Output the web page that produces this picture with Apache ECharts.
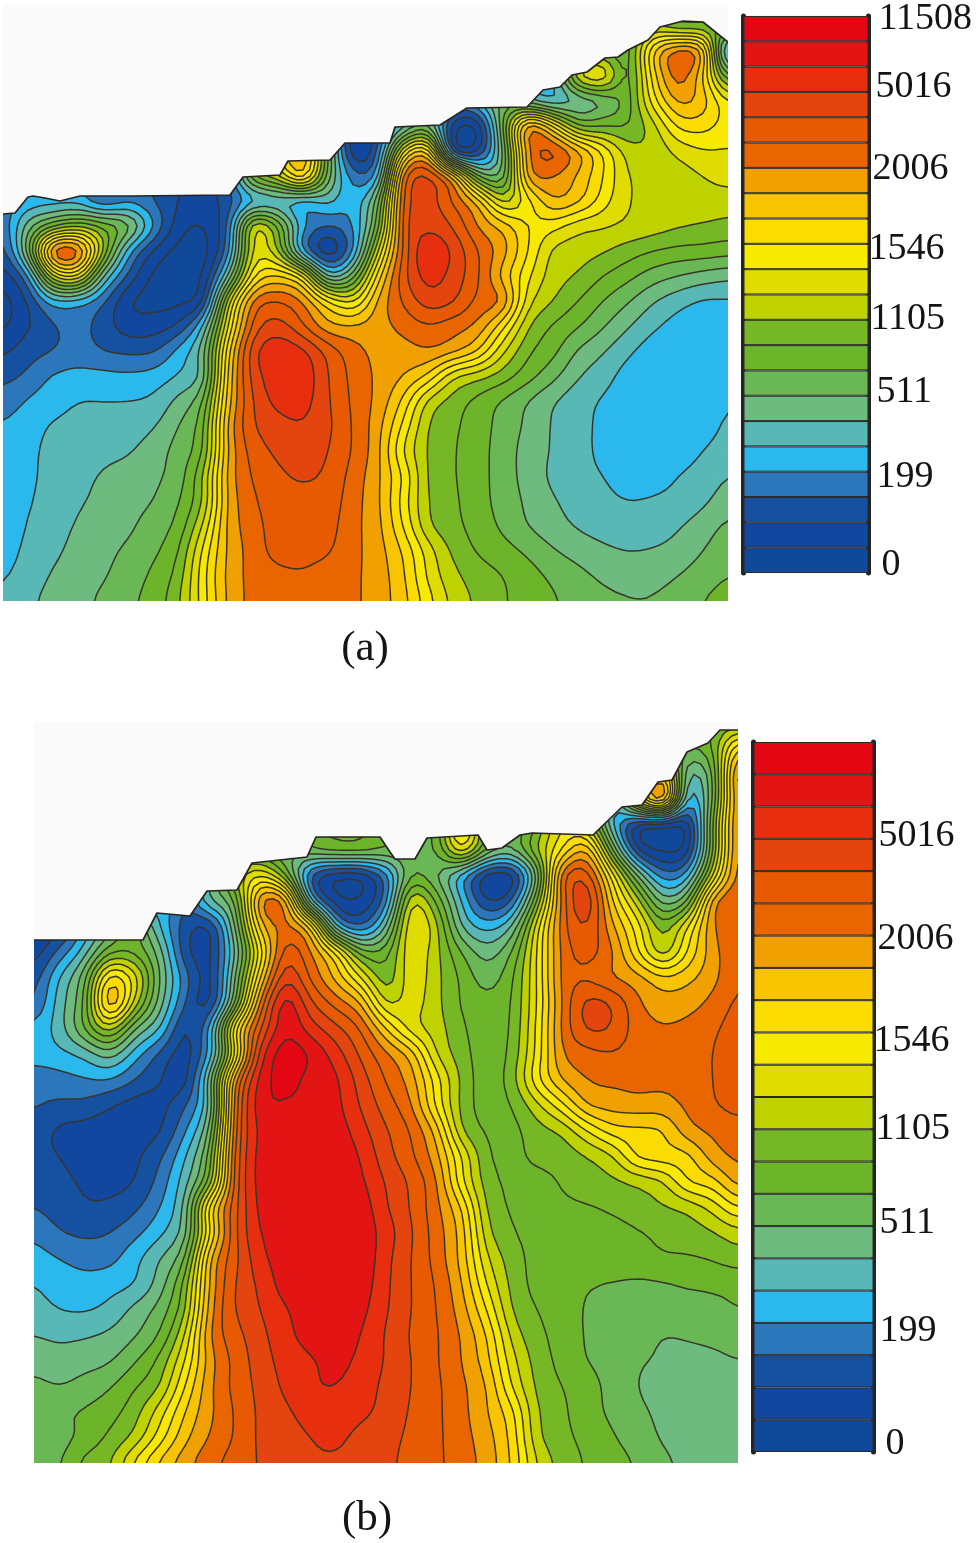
<!DOCTYPE html>
<html><head><meta charset="utf-8">
<style>html,body{margin:0;padding:0;background:#fff}#c{width:976px;height:1543px}</style>
<script src="https://cdn.jsdelivr.net/npm/echarts@6/dist/echarts.min.js"></script>
</head><body><div id="c"></div>
<script>
// ----- colour scale (bottom band to top band) and tick labels
const bandColors = ['#10499a','#12479f','#1650a0','#2c76bb','#2bb8ec','#58b8b6','#6dbb7f','#6ab855','#6cb42a','#76b726','#bed200','#e0dc00','#f7ea00','#fbdc00','#f8c400','#f0a000','#e86500','#e85a02','#e4450e','#e72f10','#e31514','#e30613'];
const tickPositionsA = [0.3,3.79,7.15,10.05,12.78,15.97,19.18,21.88];
const tickLabelsA = ['0','199','511','1105','1546','2006','5016','11508'];
const tickPositionsB = [0.26,3.76,7.11,10.0,12.72,15.9,19.08];
const tickLabelsB = ['0','199','511','1105','1546','2006','5016'];

// ----- ground surface outlines
const surfaceAX = [3,15,28,33,45,60,80,100,132,230,243,280,288,330,345,390,395,440,467,527,543,560,572,587,605,618,628,648,660,683,703,728];
const surfaceAY = [214,213,197,196,198,201,196,196,196,195,177,175,161,160,143,143,127,125,108,107,90,87,75,72,58,57,50,40,27,21,22,42];
const surfaceBX = [34,143,157,190,207,237,252,307,316,380,390,395,415,427,478,487,502,520,532,593,622,642,658,672,687,708,720,738];
const surfaceBY = [940,940,913,916,891,890,863,857,837,837,852,859,859,838,835,850,848,835,833,835,807,805,782,780,752,743,730,730];

// ----- panel (a) contour level read at 30 x 25 stations (rows top to bottom)
const fieldA = [
[3.3,4.3,4.5,4.5,3.5,3.7,3,2,2,3,9,13,15,8,1.2,3,5.5,7,4,5,7.5,6,5,9,9,8.5,10,9,9,9],
[3.3,4.3,4.5,4.5,3.5,3.7,3,2,2,3,9,13,15,8,1.2,3,5.5,7,4,5,7.5,6,5,9,9,8.5,10,9,9,9],
[3.3,4.3,4.5,4.5,3.5,3.7,3,2,2,3,9,13,15,8,1.2,3,5.5,7,4,5,7.5,6,5,9,9,8.5,14,16.5,15,3.5],
[3.3,4.3,4.5,4.5,3.5,3.7,3,2,2,3,9,13,15,8,1.2,3,5.5,7,4,5,7.5,6,5,11,12,8.5,13.5,16.5,14,8],
[3.3,4.3,4.5,4.5,3.5,3.7,3,2,2,3,9,13,15,8,1.2,3,5.5,7,4,5,7.5,6,5,6,7,8.5,12.5,15.2,14.5,12],
[3.3,4.3,4.5,4.5,3.5,3.7,3,2,2,3,9,13,15,8,1.2,2.5,5.5,7,1.5,1.2,8,15.9,13,9,9,9,10.6,13.2,13.4,12.5],
[3.3,4.3,4.5,4.5,3.5,3.7,3,2,2,3,9,13,15,8,1.2,3,12,14,1.8,1.8,7,15.9,17.2,15.2,12.8,10.5,10.3,11.3,11.9,11.9],
[3.3,4.3,4.5,4.5,3.5,3.7,3,2,1.8,3,9,11,14,7.5,3.5,4.5,16.5,18.1,15,8,7.3,15.5,16,14.8,13,11,10.7,10.6,11,11.4],
[3.3,4.3,4.5,4.5,3,3.7,3,2,1.5,2.5,4.5,5,4.5,5.3,4.3,7.5,17.2,18.4,16.8,14.6,10.6,12.6,14.9,14.2,12.5,11,10.9,10.7,10.6,10.5],
[3.3,6.5,8.7,9.8,8.8,7.5,4.1,1.5,1,3,11,9,4.3,3,4,8.5,17.4,18.7,17.9,15.9,14.6,13,12.4,11.4,11.1,10.8,10.5,10.1,9.9,9.7],
[2.5,7.5,16.6,16.6,10,4.5,1.9,0.7,0.6,3.5,11.3,10,3.8,1.2,3.9,11,17.2,19.9,18.8,17,15.4,13,10.8,10.5,10.1,9.5,9,8.7,8.6,8.4],
[1.5,3.8,11,12,6,2.8,0.8,0.5,1,6,12.8,14.1,12.3,5.6,7.5,13.5,17.6,19.4,18.6,17.1,14.6,12.2,10.5,9.9,9,8.3,7.5,7,6.6,6.3],
[0.6,2.1,4.6,4.5,3.2,1.1,0.7,0.8,1.8,10.5,16.2,17,15.9,13.1,11.8,15.2,17.1,18.5,18.1,16.7,15.9,11.4,10,9,8,7.1,6.1,5.4,4.9,4.9],
[0.8,1.9,2.9,3.4,2.5,1.5,1.5,2.2,5,12,17.3,18.4,17.1,15.3,15.1,15.6,16.3,16.9,16.4,15.7,13.3,10.1,8.9,8.1,7.1,6.1,5.2,4.6,4.3,4.3],
[1.8,2.6,3,3.5,3,2.8,2.9,4.3,6.5,13.6,18.6,19.7,19.2,17.6,16.4,15.7,15.6,15.9,15.3,14,11.2,9.2,8.3,6.9,6.1,5.2,4.5,4.3,4.3,4.3],
[2.7,3.2,4.1,4.3,4.3,4.2,4.4,5.1,6.4,14.2,18.4,19.6,19.7,18,16.7,15.8,15,13.8,11.2,10.4,9.5,8.4,7.3,6.1,5.4,4.6,4.3,4.3,4.3,4.4],
[3.4,4.1,4.6,5,5,5,5.2,6.3,7.9,14.6,18,19.3,19.4,18.1,16.8,15.7,13.8,10.8,9.6,8.7,7.9,7,6.1,5.4,4.9,4.5,4.3,4.3,4.4,4.9],
[4.1,4.6,5.1,5.2,5.3,5.5,5.9,7,8.7,15.2,17.9,18.6,18.9,18.2,16.9,15.4,12.8,10,9.2,8.5,7.6,6.8,5.9,5.3,4.8,4.4,4.3,4.3,4.5,5.2],
[4.1,4.8,5.2,5.4,5.7,5.9,6.5,7.4,8.9,15.1,17.4,18.2,18.7,18,16.9,15.3,12,9.9,9.1,8.4,7.5,6.6,5.9,5.3,4.8,4.5,4.4,4.5,5,5.5],
[4.1,4.8,5.3,5.7,6.1,6.4,6.8,7.5,10,15.3,17.1,17.8,18.1,17.8,16.6,15.2,12.9,9.9,9.1,8.4,7.5,6.6,5.8,5.3,5,4.7,4.6,5,5.4,6],
[4.1,4.9,5.4,5.9,6.2,6.6,7,7.9,10,15.2,16.8,17.7,17.8,17.6,16.4,15.2,12.6,10,9.2,8.4,7.6,6.8,6.1,5.6,5.2,5,5.1,5.3,5.8,6.5],
[4.2,5.1,5.6,6.1,6.4,6.8,7.5,8.3,11.1,15.3,16.5,17.6,17.9,17.4,16.3,15.3,13,10.2,9.3,8.6,7.8,7,6.4,5.9,5.6,5.4,5.4,5.9,6.5,7.2],
[4.5,5.3,5.8,6.3,6.7,7.2,7.8,8.9,12.2,15.2,16.4,17.4,17.3,17.1,16.3,15.4,13.9,11.5,9.8,8.9,8.4,7.8,7.1,6.6,6.2,6,6.1,6.4,7,7.6],
[4.9,5.5,6.1,6.5,6.9,7.5,8.2,9.4,12.6,15.3,16.3,16.7,16.9,16.6,16.2,15.5,14.2,11.8,10.3,9.5,9,8.4,7.8,7.3,6.8,6.5,6.6,7,7.5,8],
[5.1,5.8,6.3,6.7,7.2,7.8,8.4,9.8,12.5,15.2,16.3,16.6,16.7,16.6,16.2,15.5,14.4,12.4,10.7,9.8,9.1,8.6,8.1,7.7,7.3,7.1,7.1,7.5,8,8.4]
];

// ----- panel (b) contour level read at 29 x 30 stations (rows top to bottom)
const fieldB = [
[1,1.2,5,6,3,5,3,6,8,8,7,8.5,9,9,8,8,8,14,8,7,9,12,11,5,1.5,8,8,9,9],
[1,1.2,5,6,3,5,3,6,8,8,7,8.5,9,9,8,8,8,14,8,7,9,12,11,5,1.5,8,8,9,14],
[1,1.2,5,6,3,5,3,6,8,8,7,8.5,9,9,8,8,8,14,8,7,9,12,11,5,8,14,6,8,16.8],
[1,1.2,5,6,3,5,3,6,8,8,7,8.5,9,9,8,8,8,14,8,7,9,12,11,5,12,16.5,4.5,8,16.5],
[1,1.2,5,6,3,5,3,6,8,8,7,8.5,9,9,8,8,8,14,8,7,9,12,11,5,1.5,1.2,1.3,9,16.5],
[1,1.2,5,6,3,5,3,6,8,8,7,8,8.5,8.5,8,7.9,8,12,8,7,10,13,15,8,2,0.9,1.5,9,16.5],
[1,1.2,5,6,3,5,3,6,10,12,9,2.8,1.2,1.2,3.5,8,7,4.5,1.5,1.5,7,16.6,17.5,12.5,7,3.5,4.5,11,16.6],
[1,1.2,5,6,3,5,3,6,8,16,15.6,5,1.5,1.2,3.5,11,8.8,5,2,3,9,16.4,18.8,14,10.5,6.5,8,15.6,16.9],
[1.2,1.5,4.2,6.5,8,5,2.5,2,7,14.5,16.2,14,5,3,6,12,10.3,6,4.6,6,11.5,16.5,18,15.2,12.5,9.5,12,15.9,16.9],
[1.5,3.3,5.5,8.7,8.7,6.5,2.3,1.8,6,12.5,17.5,16,13,8.5,8.5,11.8,10.3,8,6.5,8,12,16.3,17.4,16.1,13.2,10.4,13.1,15.6,16.8],
[2.5,5,7.5,13.5,11.5,7,3.5,1.7,7,14,18.8,16.8,14.7,12,9.3,11.7,10.3,8.8,7.5,8.8,12,16.3,16.8,16,15.4,14.2,14.7,15.7,16.9],
[3,5.5,8,15,10.6,6.5,3,1.8,8,16.3,20.5,18.2,16.6,15,10.9,11.5,10.3,8.9,8.3,9,12,16.1,18.3,17.9,16.2,15.4,15.6,16.3,17.2],
[4.3,5.5,8,10.5,7,5,1.9,4.2,13,17.9,20.8,19.5,18.3,16.9,14,11.5,10.5,9.2,8.4,9.1,12.2,16.2,18.1,17.9,16.5,16.1,16.3,16.8,17.5],
[4.5,4.7,5.3,6.5,4.5,2.8,1.6,4.3,12,19.5,21.5,20.9,19.5,17.8,16.2,14.6,11,9.5,8.4,9.3,12.3,15.9,16.6,16.9,16.5,16.4,16.5,17,17.7],
[3.3,3.6,3.9,4,3,2.1,1.6,6.5,15.8,20.4,21.3,20.7,20.2,18.5,16.9,15.5,12.5,9.8,8.5,9.5,12.7,15,16,16.2,16.3,16.2,16.4,17,17.6],
[3.1,2.8,2.7,2.1,1.6,1.7,2.9,6.1,16.6,20.6,20.9,20.8,20.3,18.9,17.5,16.1,12.8,9.7,8.6,9,10.7,12.7,15,15.4,15.6,15.6,16.2,16.9,17.3],
[2.5,1.8,1.6,1.5,1.6,1.9,3.9,7.2,16.9,20.3,20.9,20.9,20.6,19.4,18.1,16.9,14.6,10.1,8.9,8.7,9.6,10.2,12,13.5,13.7,13.9,15.6,16.2,16.6],
[2.3,2,1.7,1.6,1.8,2.8,4.9,8.4,17.3,20.4,20.9,20.9,20.9,19.9,18.4,17.2,15.4,12,9.2,8.7,9.3,9.5,10,10.9,13.2,13.6,13.7,15.5,16.2],
[2.5,2.2,1.9,1.7,2,3.4,5.6,9.3,17.5,20.4,20.9,20.9,20.9,20.2,18.9,17.8,16.1,12.3,9.5,8.8,8.6,9.1,9.6,9.8,10.2,10.9,13,13.6,15.4],
[3,2.5,2.1,2.2,2.8,4,6.2,13.5,17.7,20.3,20.8,20.9,20.9,20.6,19.1,17.9,16.3,14,9.9,8.9,8.7,8.8,8.9,9.2,9.6,9.9,10.3,11.4,13],
[3.8,3.1,2.8,3,3.7,4.8,6.6,13,17.8,20,20.6,20.9,20.9,20.7,19.5,18.1,16.5,14.6,10.4,9.1,8.7,8.5,8.5,8.6,8.9,9.2,9.5,9.9,10.6],
[4.4,4,3.7,3.7,4.7,6,7.9,15,17.7,19.7,20.5,20.9,20.9,20.8,19.3,18,16.6,14.7,11.2,9.5,8.7,8.7,8.7,8.8,8.7,8.9,8.9,9.1,9.5],
[5,4.5,4.3,4.6,5,6.5,9.3,15.2,18,19.2,20.5,20.8,20.8,20.6,19.2,18,16.9,15.1,12,9.7,8.7,8.4,8.1,7.9,7.8,7.9,8.1,8.2,8.3],
[5.4,5,4.9,5.3,6.3,7.4,9.8,15.6,18,19,19.9,20.6,20.6,20.3,19.1,18,17,15.5,13,10,9,8.5,7.9,7.7,7.7,7.6,7.6,7.7,8],
[6,5.8,5.9,6.2,6.9,8.1,11,16,17.6,18.7,19.7,20.4,20.5,20,18.9,17.9,17.1,15.9,14,10.7,9.3,8.6,7.9,7.6,7.4,7,7.1,7.3,7.5],
[6.6,6.4,6.6,6.9,7.9,9.3,12,15.6,17.3,18.5,19.4,19.9,20.2,19.8,18.9,18,17.1,16,14.4,11.4,9.6,8.7,8,7.5,7.1,6.9,6.7,6.7,7],
[7.3,7,7.4,7.9,8.9,10,13,15.8,17.3,18.3,19.2,19.9,20,19.6,18.7,18,17.2,16.2,15,12,9.8,9,8.5,7.6,7,6.7,6.4,6.2,6.1],
[8,7.9,8.1,8.6,9.6,11.5,14,15.8,17.1,18.2,18.8,19.5,19.7,19.3,18.6,17.9,17.2,16.3,15.1,13.3,10.1,9.2,8.4,7.8,7.2,6.8,6.5,6.3,6.2],
[7.4,7.6,8.3,9.2,10.3,12.5,14.7,16.1,17.1,18.2,18.5,19,19.3,18.6,18.3,17.8,17.2,16.4,15.4,13.7,10.3,9.3,8.7,8.1,7.5,6.9,6.6,6.4,6.3],
[7.6,7.9,9.3,9.9,12.2,14.2,15.6,16.7,17.4,18.1,18.4,18.8,18.8,18.5,18.2,17.7,17.2,16.5,15.6,13.9,11,9.6,8.9,8.4,7.9,7.2,6.8,6.6,6.5]
];

// ----- rendering helpers (smooth display of the read stations; scales come from the axes)
const SUB = 4, SOFTEN = 2;
function refine(rows){
  const ny=rows.length,nx=rows[0].length,NX=(nx-1)*SUB+1,NY=(ny-1)*SUB+1;
  let out=[];
  const g=(j,i)=>rows[Math.max(0,Math.min(ny-1,j))][Math.max(0,Math.min(nx-1,i))];
  const cr=(p0,p1,p2,p3,t)=>0.5*((2*p1)+(-p0+p2)*t+(2*p0-5*p1+4*p2-p3)*t*t+(-p0+3*p1-3*p2+p3)*t*t*t);
  for(let J=0;J<NY;J++){const r=[];const j=Math.min(ny-2,Math.floor(J/SUB)),v=J/SUB-j;
    for(let I=0;I<NX;I++){const i=Math.min(nx-2,Math.floor(I/SUB)),u=I/SUB-i;const c=[];
      for(let m=-1;m<=2;m++)c.push(cr(g(j+m,i-1),g(j+m,i),g(j+m,i+1),g(j+m,i+2),u));
      let val=cr(c[0],c[1],c[2],c[3],v);
      const a=[g(j,i),g(j,i+1),g(j+1,i),g(j+1,i+1)];
      val=Math.max(Math.min(...a)-1.2,Math.min(Math.max(...a)+1.2,val));
      r.push(val);
    } out.push(r);}
  for(let p=0;p<SOFTEN;p++){
    const h=(j,i)=>out[Math.max(0,Math.min(NY-1,j))][Math.max(0,Math.min(NX-1,i))];
    const nxt=[];
    for(let j=0;j<NY;j++){const r=[];for(let i=0;i<NX;i++){
      r.push((4*h(j,i)+2*(h(j,i-1)+h(j,i+1)+h(j-1,i)+h(j+1,i))+h(j-1,i-1)+h(j-1,i+1)+h(j+1,i-1)+h(j+1,i+1))/16);
    } nxt.push(r);}
    out=nxt;
  }
  return out.map(r=>r.map(v=>Math.max(0.01,Math.min(21.99,v))));
}
function makePanel(rows,x0,x1,y0,y1){
  const fine=refine(rows);let cache=null;
  function build(api){
    const NY=fine.length,NX=fine[0].length,px=[],py=[];
    for(let i=0;i<NX;i++)px.push(api.coord([x0+(x1-x0)*i/(NX-1),y0])[0]);
    for(let j=0;j<NY;j++)py.push(api.coord([x0,y0+(y1-y0)*j/(NY-1)])[1]);
    const fills=bandColors.map(()=>[]),lines=bandColors.map(()=>[]);
    const f=n=>n.toFixed(1);
    for(let j=0;j<NY-1;j++)for(let i=0;i<NX-1;i++){
      const P=[[px[i],py[j],fine[j][i]],[px[i+1],py[j],fine[j][i+1]],[px[i+1],py[j+1],fine[j+1][i+1]],[px[i],py[j+1],fine[j+1][i]]];
      const mn=Math.min(P[0][2],P[1][2],P[2][2],P[3][2]),mx=Math.max(P[0][2],P[1][2],P[2][2],P[3][2]);
      for(let k=Math.floor(mn);k<=Math.floor(mx)&&k<bandColors.length;k++){
        const poly=[],cross=[];
        for(let e=0;e<4;e++){const A=P[e],B=P[(e+1)%4];
          if(A[2]>=k)poly.push([A[0],A[1]]);
          if((A[2]>=k)!==(B[2]>=k)){const t=(k-A[2])/(B[2]-A[2]);const q=[A[0]+(B[0]-A[0])*t,A[1]+(B[1]-A[1])*t];poly.push(q);cross.push(q);}
        }
        if(poly.length>2)fills[k].push('M'+poly.map(q=>f(q[0])+' '+f(q[1])).join('L')+'Z');
        if(k>0){for(let c=0;c+1<cross.length;c+=2)lines[k].push('M'+f(cross[c][0])+' '+f(cross[c][1])+'L'+f(cross[c+1][0])+' '+f(cross[c+1][1]));}
      }
    }
    cache={fills:fills.map(a=>a.join('')),lines:lines.map(a=>a.join(''))};
  }
  return {
    fill(params,api){if(!cache)build(api);const k=api.value(0);if(!cache.fills[k])return null;
      return {type:'path',shape:{pathData:cache.fills[k]},style:{fill:bandColors[k],stroke:null}};},
    line(params,api){if(!cache)build(api);const k=api.value(0);if(!cache.lines[k])return null;
      return {type:'path',shape:{pathData:cache.lines[k]},style:{fill:null,stroke:'#38362a',lineWidth:1.5,lineCap:'round',lineJoin:'round'}};}
  };
}
function skyRender(sx,sy,topY){return function(params,api){
  const pts=sx.map((x,i)=>api.coord([x,sy[i]]));
  const a=api.coord([sx[sx.length-1],topY]),b=api.coord([sx[0],topY]);
  return {type:'polygon',shape:{points:pts.concat([a,b])},style:{fill:'#fafafa',stroke:null}};
};}
function surfRender(sx,sy){return function(params,api){
  return {type:'polyline',shape:{points:sx.map((x,i)=>api.coord([x,sy[i]]))},style:{fill:null,stroke:'#26241f',lineWidth:1.7,lineJoin:'round'}};
};}

const levels=bandColors.map((c,i)=>[i]);
const panelA=makePanel(fieldA,3,728,1,601), panelB=makePanel(fieldB,34,738,722,1463);
function fieldSeries(panel,ax,sx,sy,topY){
  const base={type:'custom',coordinateSystem:'cartesian2d',xAxisIndex:ax,yAxisIndex:ax,silent:true,clip:true,animation:false};
  return [
    Object.assign({},base,{z:2,data:levels,renderItem:panel.fill}),
    Object.assign({},base,{z:3,data:levels,renderItem:panel.line}),
    Object.assign({},base,{z:4,data:[[0]],renderItem:skyRender(sx,sy,topY)}),
    Object.assign({},base,{z:5,data:[[0]],renderItem:surfRender(sx,sy)})
  ];
}
const offA={'0':13,'199':8,'511':8,'1105':2,'1546':0,'2006':4,'5016':7,'11508':10};
const offB={'0':12,'199':6,'511':6,'1105':2,'1546':0,'2006':4,'5016':5};
const serif='"Liberation Serif","Times New Roman",serif';
function richFor(off){const r={};Object.keys(off).forEach((k,i)=>{r['o'+i]={fontFamily:serif,fontSize:38,color:'#141414',padding:[0,0,0,off[k]]};});return r;}
function fmt(pos,lab,off){const keys=Object.keys(off);return v=>{const i=pos.indexOf(v);if(i<0)return '';return '{o'+keys.indexOf(lab[i])+'|'+lab[i]+'}';};}
const cats=bandColors.map((c,i)=>String(i));
function barSeries(ax){return {type:'bar',xAxisIndex:ax,yAxisIndex:ax,silent:true,animation:false,barWidth:'100%',barCategoryGap:0,z:2,
  data:bandColors.map(c=>({value:1,itemStyle:{color:c,borderColor:'#2a2a2a',borderWidth:1}}))};}
const stripe={show:true,lineStyle:{color:'#242424',width:5}};
const hidden={show:false};

const option={
  backgroundColor:'#fff',animation:false,
  title:[
    {text:'(a)',left:360,top:622,textAlign:'center',textStyle:{fontFamily:serif,fontSize:43,fontWeight:'normal',color:'#141414'}},
    {text:'(b)',left:362,top:1492,textAlign:'center',textStyle:{fontFamily:serif,fontSize:43,fontWeight:'normal',color:'#141414'}}
  ],
  grid:[
    {left:3,top:5,width:725,height:596},
    {left:34,top:722,width:704,height:741},
    {left:743.5,top:12,width:125,height:561},
    {left:753.5,top:742,width:120,height:710}
  ],
  xAxis:[
    {type:'value',gridIndex:0,min:3,max:728,show:false},
    {type:'value',gridIndex:1,min:34,max:738,show:false},
    {type:'value',gridIndex:2,min:0,max:1,show:false},
    {type:'value',gridIndex:3,min:0,max:1,show:false}
  ],
  yAxis:[
    {type:'value',gridIndex:0,min:5,max:601,inverse:true,show:false},
    {type:'value',gridIndex:1,min:722,max:1463,inverse:true,show:false},
    {type:'category',gridIndex:2,data:cats,position:'left',axisLine:stripe,axisTick:hidden,axisLabel:hidden},
    {type:'category',gridIndex:3,data:cats,position:'left',axisLine:stripe,axisTick:hidden,axisLabel:hidden},
    {type:'value',gridIndex:2,min:0,max:22,position:'right',axisLine:stripe,axisTick:hidden,splitLine:hidden,
      axisLabel:{customValues:tickPositionsA,margin:0,formatter:fmt(tickPositionsA,tickLabelsA,offA),rich:richFor(offA)}},
    {type:'value',gridIndex:3,min:0,max:22,position:'right',axisLine:stripe,axisTick:hidden,splitLine:hidden,
      axisLabel:{customValues:tickPositionsB,margin:0,formatter:fmt(tickPositionsB,tickLabelsB,offB),rich:richFor(offB)}}
  ],
  series:[].concat(
    fieldSeries(panelA,0,surfaceAX,surfaceAY,5),
    fieldSeries(panelB,1,surfaceBX,surfaceBY,722),
    [barSeries(2),barSeries(3)]
  )
};
echarts.init(document.getElementById('c'),null,{renderer:'canvas'}).setOption(option);
</script></body></html>
